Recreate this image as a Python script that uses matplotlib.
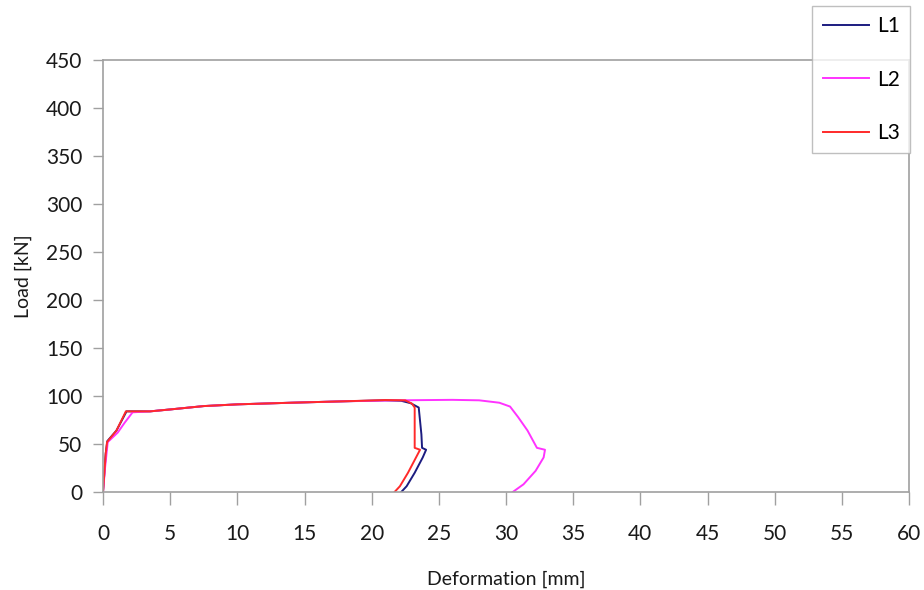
import matplotlib.pyplot as plt

# Load-deformation curves
l1_x = [0, 0.1, 0.2, 0.32, 1.0, 1.75, 3.5, 5, 7.5, 10, 14, 18, 21, 22.2, 22.9, 23.5, 23.7, 23.75, 24.05, 23.8, 23.2, 22.6, 22.2]
l1_y = [0, 20, 40, 53, 64, 84, 84, 86, 89.5, 91.3, 93, 94.5, 95.5, 95, 92.5, 88, 60, 46, 44, 36, 20, 6, 0]

l2_x = [0, 0.15, 0.35, 1.1, 1.6, 2.2, 3.5, 5, 7.5, 10, 14, 18, 22, 26, 28, 29.5, 30.3, 30.9, 31.6, 32.3, 32.9, 32.8, 32.2, 31.3, 30.5]
l2_y = [0, 25, 52, 62, 72, 83, 84, 86, 89.5, 91.3, 93, 94.5, 95.5, 96, 95.5, 93, 89, 78, 64, 46, 44, 36, 22, 8, 0]

l3_x = [0, 0.1, 0.2, 0.3, 1.0, 1.7, 3.5, 5, 7.5, 10, 14, 18, 21, 22.5, 23.0, 23.2, 23.2, 23.6, 23.3, 22.7, 22.1, 21.7]
l3_y = [0, 20, 40, 52, 64, 84, 84, 86, 89.5, 91.3, 93, 94.5, 95.8, 95.5, 92, 88, 46, 44, 36, 20, 6, 0]

x_ticks = list(range(0, 61, 5))
y_ticks = list(range(0, 451, 50))

plt.rcParams['font.family'] = ['Lato', 'DejaVu Sans']

fig = plt.figure(figsize=(9.24, 5.9), dpi=100)
ax = fig.add_axes([0.1115, 0.1661, 0.8723, 0.7322])

ax.plot(l1_x, l1_y, color='#1c1c80', lw=1.4, label='L1')
ax.plot(l2_x, l2_y, color='#ff33ff', lw=1.4, label='L2')
ax.plot(l3_x, l3_y, color='#ff2a2a', lw=1.4, label='L3')

ax.set_xlim(0, 60)
ax.set_ylim(0, 450)
ax.set_xticks(x_ticks)
ax.set_yticks(y_ticks)

for s in ax.spines.values():
    s.set_color('#a0a0a0')
    s.set_linewidth(1.2)
ax.tick_params(axis='x', colors='#a0a0a0', length=9, width=1, labelcolor='#1a1a1a', labelsize=15, pad=14)
ax.tick_params(axis='y', colors='#a0a0a0', length=7, width=1, labelcolor='#1a1a1a', labelsize=15, pad=8)

ax.set_xlabel('Deformation [mm]', fontsize=14, color='#1a1a1a', labelpad=19)
ax.set_ylabel('Load [kN]', fontsize=14, color='#1a1a1a', labelpad=10)

leg = fig.legend(loc='upper right', bbox_to_anchor=(0.985, 0.99), fontsize=15,
                 frameon=True, fancybox=False, handlelength=2.2, handletextpad=0.4,
                 labelspacing=1.6, borderpad=0.5, borderaxespad=0)
leg.get_frame().set_edgecolor('#b0b0b0')
leg.get_frame().set_linewidth(1.0)

fig.savefig('out.png', dpi=100)
